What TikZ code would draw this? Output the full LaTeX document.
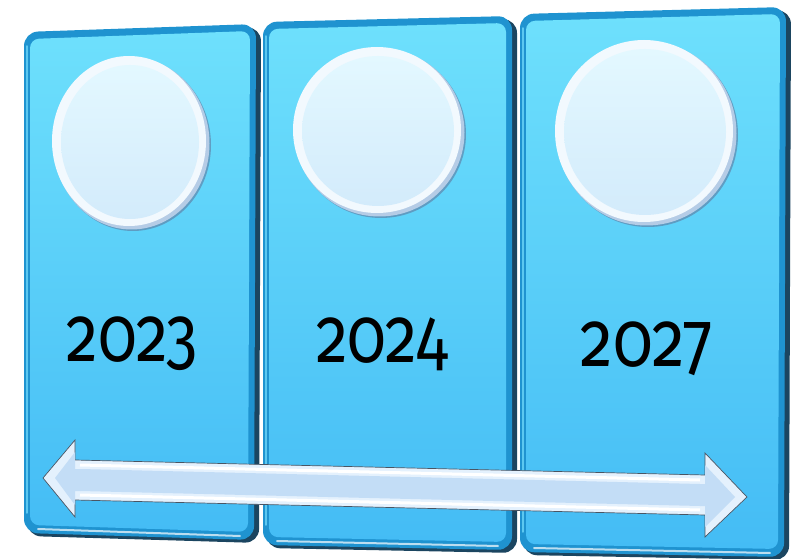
\documentclass[tikz,border=0pt]{standalone}
\usepackage{fontspec}
\newfontfamily\yearfont[Numbers=OldStyle]{Fira Sans}
\definecolor{shadowc}{HTML}{1B4560}
\definecolor{rimc}{HTML}{1F93D0}
\definecolor{rimlight}{HTML}{5CC8F0}
\definecolor{facetop}{HTML}{6EE0FC}
\definecolor{facebot}{HTML}{44BCF5}
\definecolor{discshadow}{HTML}{5F86AC}
\definecolor{discrim}{HTML}{F2F9FE}
\definecolor{discrimdark}{HTML}{B5CCE6}
\definecolor{disctop}{HTML}{E3F8FF}
\definecolor{discbot}{HTML}{D3EBFB}
\definecolor{arrowfill}{HTML}{E4F1FD}
\definecolor{arrowmid}{HTML}{C3DDF6}
\definecolor{arrowline}{HTML}{4A5563}
\tikzset{
  panelshadow/.style={fill=shadowc, rounded corners=14pt},
  panelrim/.style={fill=rimc, rounded corners=14pt},
  panelface/.style={top color=facetop, bottom color=facebot, rounded corners=9pt},
  panelhl/.style={draw=white, opacity=0.7, line width=2pt, line cap=round},
  yearlabel/.style={anchor=base, text=black, inner sep=0pt,
    font=\yearfont\fontsize{78}{78}\selectfont},
}
\begin{document}
\begin{tikzpicture}[x=1pt,y=-1pt]
\useasboundingbox (0,0) rectangle (796,559);
% panels: TLx/TLy/TRx/TRy/BRx/BRy/BLx/BLy
\foreach \a/\b/\c/\d/\e/\f/\g/\h in {24/32/256/24/254/540/24/533,
                                    263/22/512/16/512/550/263/545,
                                    520/14/786/7/784/557/520/552}{
  \path[panelshadow] (\a+3,\b+3) -- (\c+5,\d+3) -- (\e+5,\f+3) -- (\g+3,\h+3) -- cycle;
  \path[panelrim] (\a,\b) -- (\c,\d) -- (\e,\f) -- (\g,\h) -- cycle;
  \path[panelface] (\a+6,\b+7) -- (\c-6,\d+7) -- (\e-6,\f-8) -- (\g+6,\h-8) -- cycle;
  \draw[panelhl] (\g+14,\h-4) -- (\e-14,\f-4);
  \draw[draw=rimlight, line width=1.5pt, line cap=round] (\a+3,\h-20) -- (\a+3,\b+14);
}
% discs: cx/cy/rx/ry
\foreach \x/\y/\rx/\ry in {130/142/78/86, 378/131/85/84, 645/132/90/92}{
  \fill[discshadow, opacity=0.7] (\x+3,\y+3) ellipse [x radius=\rx, y radius=\ry];
  \fill[discrimdark] (\x+1.5,\y+1.5) ellipse [x radius=\rx, y radius=\ry];
  \fill[discrim] (\x-1,\y-1) ellipse [x radius=\rx-1, y radius=\ry-1];
  \shade[top color=disctop, bottom color=discbot] (\x,\y) ellipse [x radius=\rx-9, y radius=\ry-9];
}
% year labels
\node[yearlabel] (y1) at (132,361) {\scalebox{0.82}[1]{2023}};
\node[yearlabel] (y2) at (382,362) {\scalebox{0.82}[1]{2024}};
\node[yearlabel] (y3) at (647,366) {\scalebox{0.84}[1]{2027}};
% double arrow
\path[fill=arrowfill, draw=arrowline, line width=0.7pt, line join=miter]
  (43,478) -- (75,440) -- (75,460) -- (705,475) -- (705,453) -- (747,497)
  -- (705,537) -- (705,515) -- (75,500) -- (75,517) -- cycle;
\fill[arrowmid] (80,469) -- (700,484) -- (700,506) -- (80,491) -- cycle;
\fill[arrowmid] (55,478) -- (75,452) -- (75,469) -- (80,469) -- (80,491) -- (75,491) -- (75,505) -- cycle;
\fill[arrowmid] (735,497) -- (705,465) -- (705,484) -- (700,484) -- (700,506) -- (705,506) -- (705,527) -- cycle;
\draw[white, line width=3pt] (80,465) -- (700,480);
\draw[white, line width=3pt] (80,495) -- (700,510);
\end{tikzpicture}
\end{document}
